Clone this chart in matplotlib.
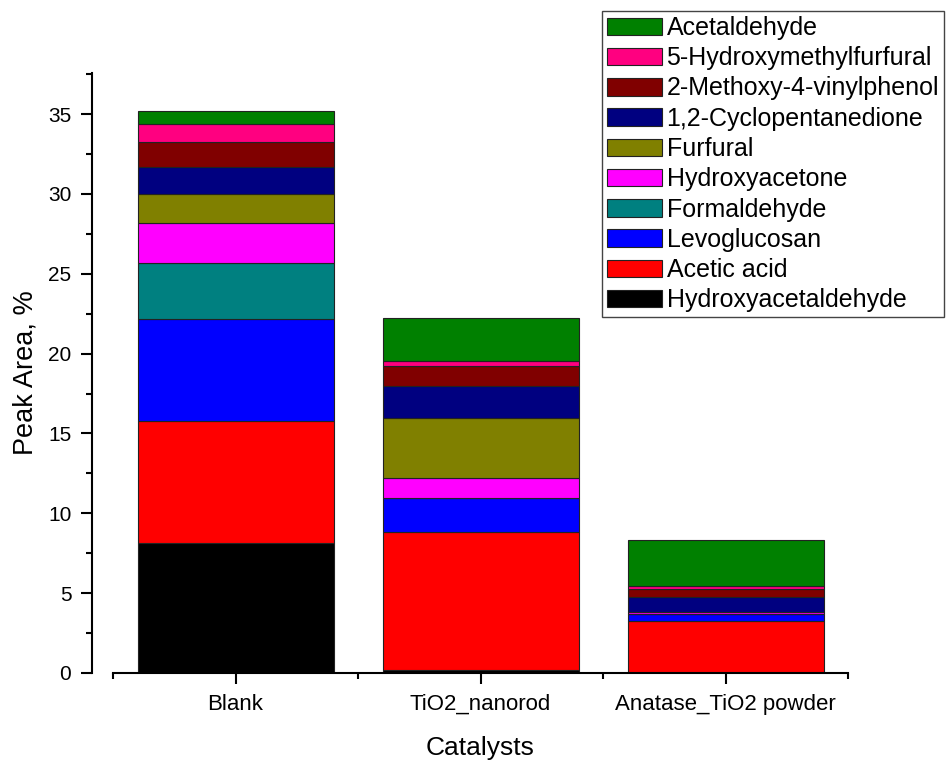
import matplotlib.pyplot as plt
import numpy as np
from matplotlib.ticker import MultipleLocator, FixedLocator

plt.rcParams['font.family'] = ['Liberation Sans', 'DejaVu Sans']

# categories and stacked components (bottom to top)
catalysts = ['Blank', 'TiO2_nanorod', 'Anatase_TiO2 powder']
compounds = ['Hydroxyacetaldehyde', 'Acetic acid', 'Levoglucosan', 'Formaldehyde',
             'Hydroxyacetone', 'Furfural', '1,2-Cyclopentanedione',
             '2-Methoxy-4-vinylphenol', '5-Hydroxymethylfurfural', 'Acetaldehyde']
hydroxyacetaldehyde = [8.12, 0.2, 0.0]
acetic_acid = [7.66, 8.65, 3.27]
levoglucosan = [6.37, 2.1, 0.4]
formaldehyde = [3.5, 0.0, 0.0]
hydroxyacetone = [2.55, 1.25, 0.12]
furfural = [1.8, 3.75, 0.0]
cyclopentanedione = [1.67, 2.0, 0.98]
methoxyvinylphenol = [1.6, 1.3, 0.52]
hmf = [1.13, 0.27, 0.14]
acetaldehyde = [0.8, 2.72, 2.9]

series = [hydroxyacetaldehyde, acetic_acid, levoglucosan, formaldehyde, hydroxyacetone,
          furfural, cyclopentanedione, methoxyvinylphenol, hmf, acetaldehyde]
colors = ['#000000', '#FF0000', '#0000FF', '#008080', '#FF00FF',
          '#808000', '#000080', '#800000', '#FF0080', '#008000']

fig = plt.figure(figsize=(9.47, 7.61), dpi=100)
ax = fig.add_axes([113 / 947, 88 / 761, 735 / 947, 600 / 761])

x = np.arange(len(catalysts))
bottom = np.zeros(len(catalysts))
handles = []
for vals, col, name in zip(series, colors, compounds):
    b = ax.bar(x, vals, 0.8, bottom=bottom, color=col, edgecolor='#222222',
               linewidth=0.8, label=name)
    handles.append(b)
    bottom += np.array(vals)

ax.set_xlim(-0.5, 2.5)
ax.set_ylim(0, 37.57)

ax.spines['top'].set_visible(False)
ax.spines['right'].set_visible(False)
ax.spines['left'].set_position(('outward', 15))
for s in ['left', 'bottom']:
    ax.spines[s].set_linewidth(1.5)

ax.set_xticks(x)
ax.set_xticklabels(catalysts, fontsize=16)
ax.xaxis.set_minor_locator(FixedLocator([-0.5, 0.5, 1.5, 2.5]))
ax.yaxis.set_major_locator(MultipleLocator(5))
ax.yaxis.set_minor_locator(MultipleLocator(2.5))
ax.tick_params(axis='both', which='major', direction='out', length=8, width=1.5, pad=7)
ax.tick_params(axis='both', which='minor', direction='out', length=4.5, width=1.5)
ax.tick_params(axis='y', labelsize=15)

ax.set_xlabel('Catalysts', fontsize=19, labelpad=15)
ax.set_ylabel('Peak Area, %', fontsize=19.5, labelpad=7)

leg = fig.legend(handles[::-1], compounds[::-1], loc='upper left',
                 bbox_to_anchor=(602 / 947, 1 - 11 / 761), fontsize=18,
                 frameon=True, fancybox=False, framealpha=1, edgecolor='#444444',
                 handlelength=2.2, handleheight=0.7, handletextpad=0.18,
                 labelspacing=0.25, borderpad=0.2, borderaxespad=0)
leg.get_frame().set_linewidth(1.0)

fig.savefig('out.png', dpi=100)
